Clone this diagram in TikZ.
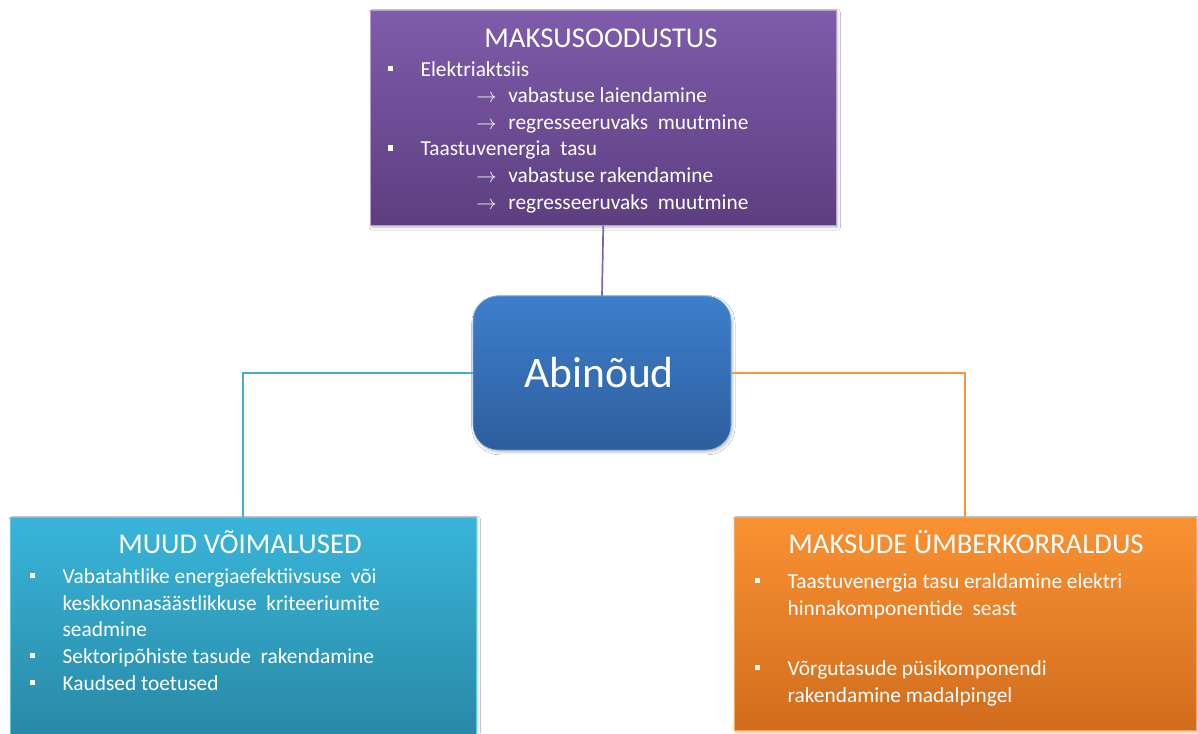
\documentclass[tikz,border=0pt]{standalone}
\usepackage{fontspec}
\setmainfont{Carlito}
\usetikzlibrary{positioning,shadows.blur}
\definecolor{plumTop}  {HTML}{7E5CAB}
\definecolor{plumBot}  {HTML}{5D3E80}
\definecolor{plumLine} {HTML}{8064A8}
\definecolor{blueTop}  {HTML}{3D7FCB}
\definecolor{blueBot}  {HTML}{2D5E9E}
\definecolor{skyTop}   {HTML}{39B5DA}
\definecolor{skyBot}   {HTML}{2886A3}
\definecolor{skyLine}  {HTML}{4BACC6}
\definecolor{amberTop} {HTML}{FA9233}
\definecolor{amberBot} {HTML}{D06C1D}
\definecolor{amberLine}{HTML}{F79646}
\newcommand{\bul}{\makebox[23pt][l]{\rule[3.8pt]{3.6pt}{3.6pt}}}
\newcommand{\arr}{\hspace*{62.6pt}\makebox[22.8pt][l]{$\rightarrow$}}

\begin{document}
\begin{tikzpicture}[x=0.025cm,y=-0.025cm,
  panel/.style={draw=white!70!black, line width=0.4pt, inner sep=0pt,
    blur shadow={shadow blur steps=5, shadow xshift=1pt, shadow yshift=-1.5pt, shadow opacity=25}},
  title/.style={text=white, font=\fontsize{20.4}{24}\selectfont, anchor=base},
  body/.style={text=white, font=\fontsize{15.2}{18.9}\selectfont, align=left, anchor=base west, inner sep=0pt}]
  \clip (0,0) rectangle (1198,733);
  \fill[white] (0,0) rectangle (1198,733);
  % boxes
  \node[panel, draw=plumLine!60, top color=plumTop, bottom color=plumBot, anchor=north west,
        minimum width=466*0.025cm, minimum height=215*0.025cm] (maks) at (370,10) {};
  \node[panel, draw=skyTop!80, top color=skyTop, bottom color=skyBot, anchor=north west,
        minimum width=466*0.025cm, minimum height=230*0.025cm] (muud) at (10,517) {};
  \node[panel, draw=amberTop!80, top color=amberTop, bottom color=amberBot, anchor=north west,
        minimum width=462*0.025cm, minimum height=213*0.025cm] (umber) at (734,517) {};
  \node[panel, draw=blueTop!70, top color=blueTop, bottom color=blueBot, rounded corners=18pt,
        minimum width=258*0.025cm, minimum height=154*0.025cm] (abi) at (602,373) {};
  \node[text=white, font=\fontsize{31}{36}\selectfont, anchor=base] (abitxt) at (599,387) {Abinõud};
  % connectors
  \draw[plumLine, line width=1.2pt] (maks.south) -- (abi.north);
  \draw[skyLine, line width=1.2pt] (abi.west) -| (muud.north);
  \draw[amberLine, line width=1.2pt] (abi.east) -| (umber.north);
  % texts (base = last line)
  \node[title] (maksT) at (601,47) {MAKSUSOODUSTUS};
  \node[body] (maksB) at (388,209)
    {\bul Elektriaktsiis\\
     \arr vabastuse laiendamine\\
     \arr regresseeruvaks\ \ muutmine\\
     \bul Taastuvenergia\ \ tasu\\
     \arr vabastuse rakendamine\\
     \arr regresseeruvaks\ \ muutmine};
  \node[title] (muudT) at (240,553) {MUUD VÕIMALUSED};
  \node[body] (muudB) at (30,690)
    {\bul Vabatahtlike energiaefektiivsuse\ \ või\\
     \hspace*{23pt}keskkonnasäästlikkuse\ \ kriteeriumite\\
     \hspace*{23pt}seadmine\\
     \bul Sektoripõhiste tasude\ \ rakendamine\\
     \bul Kaudsed toetused};
  \node[title] (umberT) at (966,553) {MAKSUDE ÜMBERKORRALDUS};
  \node[body] (umberB) at (755,702)
    {\bul Taastuvenergia tasu eraldamine elektri\\
     \hspace*{23pt}hinnakomponentide\ \ seast\\[24pt]
     \bul Võrgutasude püsikomponendi\\
     \hspace*{23pt}rakendamine madalpingel};
\end{tikzpicture}
\end{document}
